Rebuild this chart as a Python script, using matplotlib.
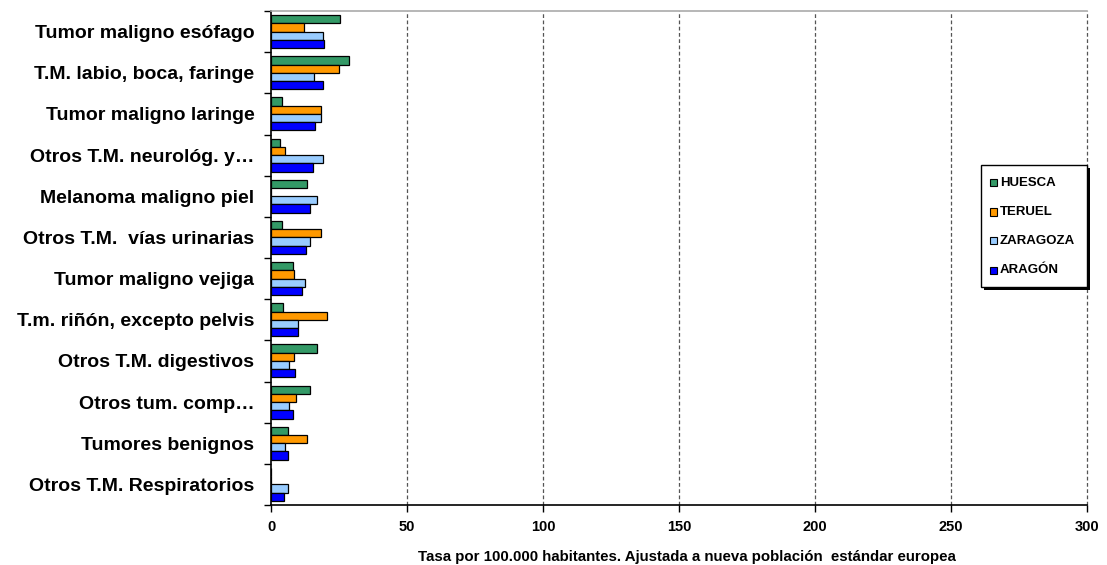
import numpy as np
import matplotlib.pyplot as plt
from matplotlib.patches import Rectangle

plt.rcParams['font.family'] = ['Liberation Sans', 'DejaVu Sans']
plt.rcParams['font.weight'] = 'bold'

categories = ['Tumor maligno esófago', 'T.M. labio, boca, faringe', 'Tumor maligno laringe',
              'Otros T.M. neurológ. y…', 'Melanoma maligno piel', 'Otros T.M.  vías urinarias',
              'Tumor maligno vejiga', 'T.m. riñón, excepto pelvis', 'Otros T.M. digestivos',
              'Otros tum. comp…', 'Tumores benignos', 'Otros T.M. Respiratorios']
huesca = [25.5, 28.7, 3.9, 3.4, 13.1, 3.9, 8.0, 4.3, 16.8, 14.4, 6.1, 0]
teruel = [12.3, 25.0, 18.5, 5.3, 0, 18.5, 8.5, 20.5, 8.5, 9.3, 13.1, 0]
zaragoza = [19.0, 15.8, 18.5, 19.0, 16.8, 14.4, 12.5, 9.8, 6.7, 6.7, 5.1, 6.1]
aragon = [19.6, 19.0, 16.3, 15.3, 14.4, 13.0, 11.3, 9.8, 8.9, 8.0, 6.1, 4.9]

series = [('HUESCA', huesca, '#339966'), ('TERUEL', teruel, '#FF9900'),
          ('ZARAGOZA', zaragoza, '#99CCFF'), ('ARAGÓN', aragon, '#0000FF')]

fig = plt.figure(figsize=(11.07, 5.65), dpi=100)
ax = fig.add_axes([271/1107, 1-505/565, 816/1107, 494/565])

y = np.arange(len(categories))
h = 0.2
for i, (name, vals, col) in enumerate(series):
    ax.barh(y - 0.3 + i*h, vals, height=h, color=col, edgecolor='black', linewidth=0.9, label=name, zorder=3)

ax.set_xlim(0, 300)
ax.set_ylim(len(categories) - 0.5, -0.5)
ax.set_xticks(np.arange(0, 301, 50))
ax.set_yticks(y)
ax.set_yticklabels(categories, fontsize=14, fontweight='bold')
ax.set_yticks(np.arange(-0.5, len(categories), 1), minor=True)
ax.tick_params(axis='y', which='major', length=0, pad=12)
ax.tick_params(axis='y', which='minor', length=5, width=1)
ax.tick_params(axis='x', labelsize=10.5, length=5, width=1, pad=6)
for lbl in ax.get_xticklabels():
    lbl.set_fontweight('bold')
for x in np.arange(50, 301, 50):
    ax.axvline(x, color='#555555', linestyle=(0, (3, 2)), linewidth=0.9, zorder=1, clip_on=False)

ax.spines['top'].set_color('#aaaaaa')
ax.spines['top'].set_linewidth(1.2)
ax.spines['right'].set_visible(False)
ax.spines['left'].set_linewidth(1.2)
ax.spines['bottom'].set_linewidth(1.2)

fig.text(687/1107, 1-557/565,
         'Tasa por 100.000 habitantes. Ajustada a nueva población  estándar europea',
         fontsize=10.8, fontweight='bold', ha='center', va='center')

# legend with shadow
lx0, ly0, lw, lh = 981/1107, 1-287/565, 106/1107, 122/565
fig.patches.append(Rectangle((lx0 + 3/1107, ly0 - 3/565), lw, lh, transform=fig.transFigure,
                             facecolor='black', edgecolor='none', zorder=4))
fig.patches.append(Rectangle((lx0, ly0), lw, lh, transform=fig.transFigure,
                             facecolor='white', edgecolor='black', linewidth=1, zorder=5))
for i, (name, vals, col) in enumerate(series):
    yy = 1 - (183 + i*29)/565
    fig.patches.append(Rectangle((990/1107, yy - 3.5/565), 7/1107, 7/565, transform=fig.transFigure,
                                 facecolor=col, edgecolor='black', linewidth=0.8, zorder=6))
    fig.text(1000/1107, yy, name, fontsize=9.5, fontweight='bold', va='center', ha='left', zorder=7)

fig.savefig('out.png', dpi=100)
